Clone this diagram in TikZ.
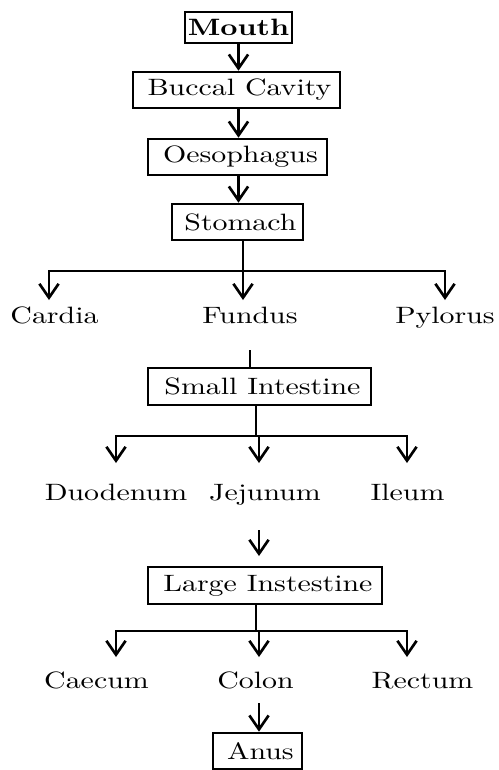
\documentclass[tikz,border=0pt]{standalone}
\usepackage{graphicx}
\usetikzlibrary{arrows.meta}
\newcommand\vsq[1]{\hspace*{2pt}\scalebox{1.01}[0.8]{#1}}
\newcommand\vlb[1]{\scalebox{1.01}[0.8]{#1}}
\tikzset{
  boxnode/.style={draw, line width=0.85pt, inner xsep=0pt, inner ysep=0pt, minimum height=12.2pt, font=\fontsize{10}{12}\selectfont},
  lbl/.style={inner sep=0pt, anchor=base, font=\fontsize{10}{12}\selectfont},
  ln/.style={line width=0.9pt},
  arr/.style={line width=0.9pt, -{Straight Barb[length=4.7pt,width=6.5pt,line width=0.9pt]}},
}
\begin{document}
\begin{tikzpicture}[x=0.338pt,y=-0.338pt]
\useasboundingbox (0,0) rectangle (499,770);
% boxes
\node[boxnode, minimum width=36.2pt, minimum height=10.5pt] (mouth) at (238.5,27.5) {\vlb{\textbf{Mouth}}};
\node[boxnode, minimum width=70.0pt] (buccal) at (236.5,90) {\vsq{Buccal Cavity}};
\node[boxnode, minimum width=60.5pt] (oeso) at (237.5,157) {\vsq{Oesophagus}};
\node[boxnode, minimum width=44.3pt] (stomach) at (237.5,222) {\vsq{Stomach}};
\node[boxnode, minimum width=75.4pt, minimum height=12.5pt] (small) at (259.5,386.5) {\vsq{Small Intestine}};
\node[boxnode, minimum width=79.1pt, minimum height=12.5pt] (large) at (265,585.5) {\vsq{Large Instestine}};
\node[boxnode, minimum width=30.1pt] (anus) at (257.5,751) {\vsq{Anus}};
% labels
\node[lbl] (cardia) at (54.5,323) {\vlb{Cardia}};
\node[lbl] (fundus) at (250,323) {\vlb{Fundus}};
\node[lbl] (pylorus) at (445,323) {\vlb{Pylorus}};
\node[lbl] (duod) at (116,500) {\vlb{Duodenum}};
\node[lbl] (jeju) at (265,500) {\vlb{Jejunum}};
\node[lbl] (ileum) at (407.5,500) {\vlb{Ileum}};
\node[lbl] (caecum) at (96.5,688) {\vlb{Caecum}};
\node[lbl] (colon) at (255.5,688) {\vlb{Colon}};
\node[lbl] (rectum) at (422.5,688) {\vlb{Rectum}};
% coordinates
\coordinate (s1) at (243,271);
\coordinate (tc) at (49,300);
\coordinate (tf) at (243,300);
\coordinate (tp) at (445,300);
\coordinate (f1) at (250,350);
\coordinate (s2) at (256,436);
\coordinate (s2m) at (259,436);
\coordinate (td) at (116,463);
\coordinate (tj) at (259,463);
\coordinate (ti) at (407,463);
\coordinate (j1) at (259,530);
\coordinate (j2) at (259,556);
\coordinate (l1) at (256,631);
\coordinate (l1m) at (259,631);
\coordinate (tca) at (116,657);
\coordinate (tco) at (259,657);
\coordinate (tre) at (407,657);
\coordinate (c1) at (259,703);
% main chain
\draw[arr] (mouth.south) -- (mouth.south |- buccal.north);
\draw[arr] (mouth.south |- buccal.south) -- (mouth.south |- oeso.north);
\draw[arr] (mouth.south |- oeso.south) -- (mouth.south |- stomach.north);
% stomach branches
\draw[ln] (s1 |- stomach.south) -- (s1);
\draw[arr] (s1) -| (tc);
\draw[arr] (s1) -| (tp);
\draw[arr] (s1) -- (tf);
% fundus to small intestine
\draw[ln] (f1) -- (f1 |- small.north);
% small intestine branches
\draw[ln] (s2 |- small.south) -- (s2);
\draw[arr] (s2) -| (td);
\draw[arr] (s2) -| (ti);
\draw[arr] (s2m) -- (tj);
% jejunum to large
\draw[arr] (j1) -- (j2);
% large intestine branches
\draw[ln] (l1 |- large.south) -- (l1);
\draw[arr] (l1) -| (tca);
\draw[arr] (l1) -| (tre);
\draw[arr] (l1m) -- (tco);
% colon to anus
\draw[arr] (c1) -- (c1 |- anus.north);
\end{tikzpicture}
\end{document}
